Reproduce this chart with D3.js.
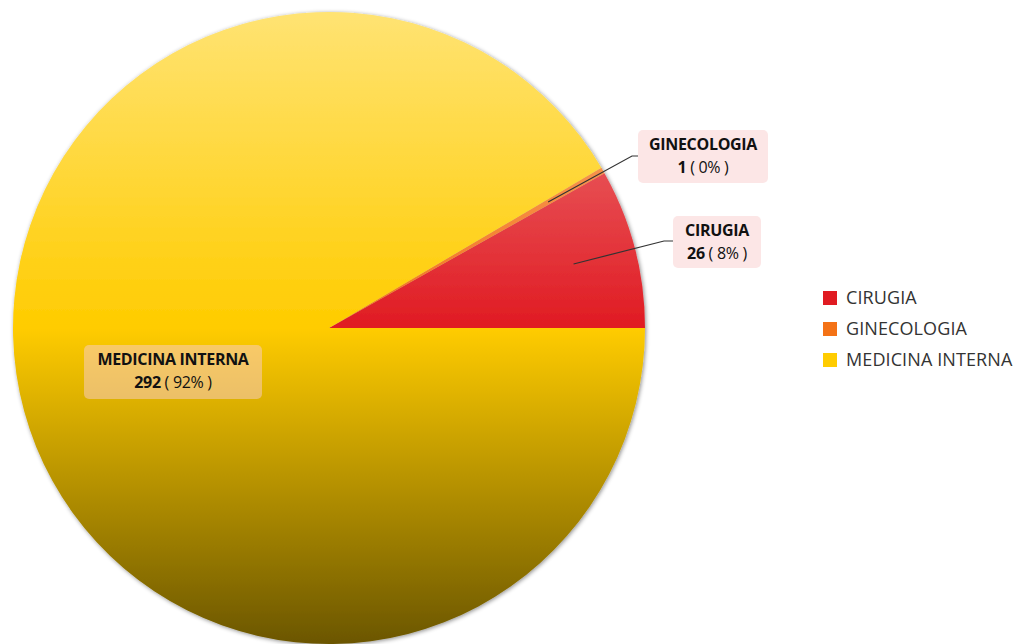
<!DOCTYPE html>
<html>
<head>
<meta charset="utf-8">
<script src="https://cdn.jsdelivr.net/npm/d3@7"></script>
<style>
  body { margin: 0; background: #fff; }
  svg { display: block; }
</style>
</head>
<body>
<div id="chart"></div>
<script>
const categories = ['CIRUGIA', 'GINECOLOGIA', 'MEDICINA INTERNA'];
const values = [26, 1, 292];
const colors = ['#e01b22', '#f47216', '#ffcc00'];

const W = 1021, H = 644;
const cx = 329, cy = 328, R = 316;

const svg = d3.select('#chart').append('svg').attr('width', W).attr('height', H);
const defs = svg.append('defs');

// drop shadow round the pie
const f = defs.append('filter').attr('id', 'shadow')
  .attr('x', '-5%').attr('y', '-5%').attr('width', '110%').attr('height', '110%');
f.append('feDropShadow').attr('dx', 1).attr('dy', 1).attr('stdDeviation', 2)
  .attr('flood-color', '#000').attr('flood-opacity', 0.45);

// vertical gradients over the whole pie: light at top, base in middle, dark at bottom
// (coordinates are in the pie group's space, centred on 0,0)
colors.forEach((c, i) => {
  const g = defs.append('linearGradient').attr('id', 'grad' + i)
    .attr('gradientUnits', 'userSpaceOnUse')
    .attr('x1', 0).attr('x2', 0).attr('y1', -R).attr('y2', R);
  g.append('stop').attr('offset', '0%').attr('stop-color', d3.interpolateRgb(c, '#fff')(0.45));
  g.append('stop').attr('offset', '50%').attr('stop-color', c);
  g.append('stop').attr('offset', '100%').attr('stop-color', d3.interpolateRgb(c, '#000')(0.58));
});

const total = d3.sum(values);
const data = categories.map((c, i) => ({ name: c, value: values[i], idx: i }));

const pie = d3.pie().value(d => d.value).sort(null)
  .startAngle(Math.PI / 2).endAngle(Math.PI / 2 - 2 * Math.PI);
const arcs = pie(data);
const arc = d3.arc().innerRadius(0).outerRadius(R);

const g = svg.append('g').attr('transform', `translate(${cx},${cy})`);
g.append('g').attr('filter', 'url(#shadow)')
  .selectAll('path').data(arcs).enter().append('path')
  .attr('d', arc)
  .attr('fill', d => `url(#grad${d.data.idx})`);

// labels
const labelFont = '"Open Sans", "DejaVu Sans", sans-serif';
const labelInfo = [
  { box: [673, 216, 88, 52], line: [[664, 241], [673, 241]] },
  { box: [638, 130, 130, 53], line: [[632, 156], [638, 156]] },
  { box: [84, 345, 178, 54], line: null }
];
const boxFill = 'rgba(250,205,205,0.5)';

const inner = d3.arc().innerRadius(R * 0.8).outerRadius(R * 0.8);
arcs.forEach((a, i) => {
  const info = labelInfo[i];
  if (info.line) {
    const p = inner.centroid(a);
    const pts = [[cx + p[0], cy + p[1]]].concat(info.line);
    svg.append('path').attr('d', d3.line()(pts))
      .attr('fill', 'none').attr('stroke', '#333').attr('stroke-width', 1.2);
  }
  const [bx, by, bw, bh] = info.box;
  svg.append('rect').attr('x', bx).attr('y', by).attr('width', bw).attr('height', bh)
    .attr('rx', 5).attr('fill', boxFill);
  const tx = bx + bw / 2;
  svg.append('text').attr('x', tx).attr('y', by + 20)
    .attr('text-anchor', 'middle').style('font-family', labelFont)
    .style('font-size', '16px').style('font-weight', 700).style('fill', '#111')
    .style('letter-spacing', '-0.3px')
    .text(a.data.name);
  const t2 = svg.append('text').attr('x', tx).attr('y', by + 43)
    .attr('text-anchor', 'middle').style('font-family', labelFont)
    .style('font-size', '16px').style('fill', '#111').style('letter-spacing', '-0.3px');
  t2.append('tspan').style('font-weight', 700).text(a.data.value);
  t2.append('tspan').text(' ( ' + Math.round(a.data.value / total * 100) + '% )');
});

// legend
const legend = svg.append('g').attr('transform', 'translate(823,291)');
data.forEach((d, i) => {
  const row = legend.append('g').attr('transform', `translate(0,${i * 31})`);
  row.append('rect').attr('width', 14).attr('height', 14).attr('fill', colors[i]);
  row.append('text').attr('x', 23).attr('y', 13)
    .style('font-family', labelFont).style('font-size', '18px').style('fill', '#333')
    .style('letter-spacing', '0.1px')
    .text(d.name);
});
</script>
</body>
</html>
